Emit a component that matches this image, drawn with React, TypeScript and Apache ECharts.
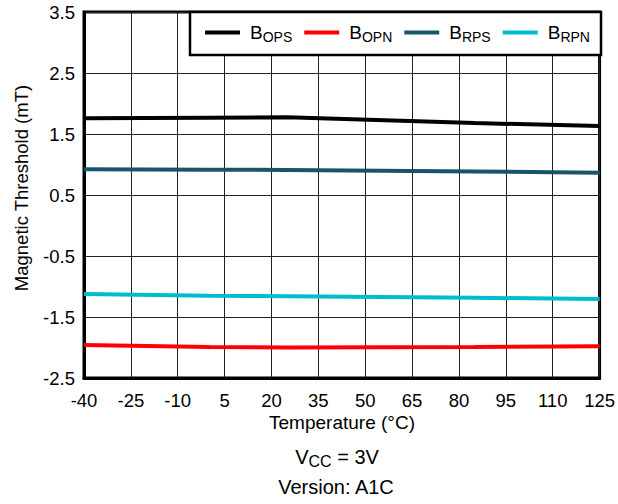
import React, { useEffect, useRef } from "react";
import * as echarts from "echarts";

const temps = [-40, 0, 25, 85, 125];
const bOPS = [1.757, 1.768, 1.773, 1.68, 1.63];
const bOPN = [-1.96, -1.99, -2.0, -1.99, -1.98];
const bRPS = [0.921, 0.915, 0.91, 0.885, 0.866];
const bRPN = [-1.123, -1.15, -1.16, -1.185, -1.205];

const seriesNames = ["BOPS", "BOPN", "BRPS", "BRPN"];
const seriesSubs: Record<string, string> = { BOPS: "OPS", BOPN: "OPN", BRPS: "RPS", BRPN: "RPN" };
const seriesColors = ["#000000", "#ff0000", "#17566a", "#00bccf"];
const seriesData = [bOPS, bOPN, bRPS, bRPN];

const FONT = "'Liberation Sans', Arial, sans-serif";

export default function App() {
  const ref = useRef<HTMLDivElement>(null);
  useEffect(() => {
    if (!ref.current) return;
    const chart = echarts.init(ref.current, null, { renderer: "svg" });
    chart.setOption({
      animation: false,
      textStyle: { fontFamily: FONT },
      grid: {
        left: 84,
        right: 18,
        top: 12,
        bottom: 126,
        show: true,
        borderColor: "#000",
        borderWidth: 3,
      },
      legend: {
        data: seriesNames,
        left: 205,
        top: 23,
        padding: 0,
        itemWidth: 35,
        itemHeight: 4,
        itemGap: 12,
        icon: "rect",
        z: 10,
        formatter: (name: string) => `{b|B}{s|${seriesSubs[name]}}`,
        textStyle: {
          color: "#000",
          rich: {
            b: { fontSize: 19, fontFamily: FONT, color: "#000", padding: [0, 0, 0, 5] },
            s: { fontSize: 14, fontFamily: FONT, color: "#000", padding: [8, 0, 0, 0] },
          },
        },
      },
      xAxis: {
        type: "value",
        min: -40,
        max: 125,
        interval: 15,
        axisLine: { show: true, onZero: false, lineStyle: { color: "#000", width: 3 } },
        axisTick: { show: false },
        splitLine: { show: true, lineStyle: { color: "#222", width: 1 } },
        axisLabel: { color: "#000", fontSize: 18.5, fontFamily: FONT, margin: 13 },
      },
      yAxis: {
        type: "value",
        min: -2.5,
        max: 3.5,
        interval: 1,
        axisLine: { show: true, onZero: false, lineStyle: { color: "#000", width: 3 } },
        axisTick: { show: false },
        splitLine: { show: true, lineStyle: { color: "#222", width: 1 } },
        axisLabel: {
          color: "#000",
          fontSize: 18.5,
          fontFamily: FONT,
          margin: 9,
          formatter: (v: number) => v.toFixed(1),
        },
      },
      graphic: [
        {
          type: "rect",
          z: 5,
          shape: { x: 190, y: 12, width: 411, height: 43 },
          style: { fill: "#fff", stroke: "#000", lineWidth: 2.5 },
        },
        {
          type: "text",
          x: 21,
          y: 188,
          rotation: Math.PI / 2,
          style: {
            text: "Magnetic Threshold (mT)",
            font: `18.5px ${FONT}`,
            fill: "#000",
            textAlign: "center",
            textVerticalAlign: "middle",
          },
        },
        {
          type: "text",
          x: 342,
          y: 422,
          style: {
            text: "Temperature (°C)",
            font: `19px ${FONT}`,
            fill: "#000",
            textAlign: "center",
            textVerticalAlign: "middle",
          },
        },
        {
          type: "text",
          x: 337,
          y: 457,
          style: {
            text: "{v|V}{s|CC}{v| = 3V}",
            fill: "#000",
            textAlign: "center",
            textVerticalAlign: "middle",
            rich: {
              v: { fontSize: 20, fontFamily: FONT, fill: "#000" },
              s: { fontSize: 16, fontFamily: FONT, fill: "#000", padding: [8, 0, 0, 0] },
            },
          },
        },
        {
          type: "text",
          x: 336,
          y: 487,
          style: {
            text: "Version: A1C",
            font: `20px ${FONT}`,
            fill: "#000",
            textAlign: "center",
            textVerticalAlign: "middle",
          },
        },
      ],
      series: seriesNames.map((name, i) => ({
        name,
        type: "line",
        data: temps.map((t, j) => [t, seriesData[i][j]]),
        showSymbol: false,
        color: seriesColors[i],
        lineStyle: { color: seriesColors[i], width: 4 },
        z: 3,
      })),
    });
    return () => chart.dispose();
  }, []);
  return (
    <div
      ref={ref}
      style={{ position: "absolute", left: 0, top: 0, width: 618, height: 504 }}
    />
  );
}
